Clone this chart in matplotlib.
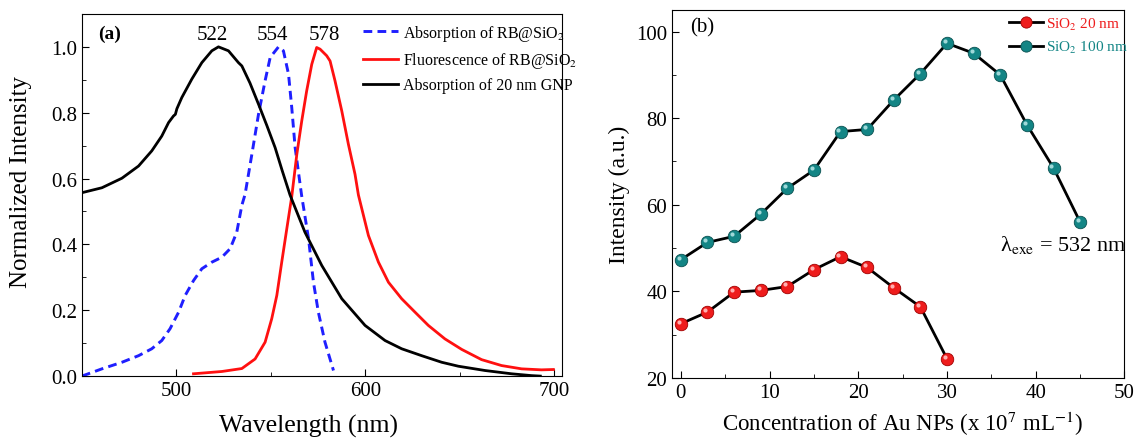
import matplotlib
matplotlib.use("Agg")
import matplotlib.pyplot as plt
from matplotlib import transforms
from matplotlib.ticker import MultipleLocator, FormatStrFormatter

plt.rcParams['font.family'] = ['Liberation Serif', 'DejaVu Serif']
plt.rcParams['mathtext.fontset'] = 'stix'

# (a) spectra
gnp_wl = [450, 460.6, 471.2, 480, 487, 492.3, 495.9, 498.5, 499.5, 500.3, 502.9, 508.2,
          513.5, 518.8, 522.3, 527.6, 532.9, 534.7, 539, 543.5, 548, 552.3, 556, 560.2,
          568.1, 577, 587.6, 599.9, 610.5, 619.3, 629.9, 640.5, 649.3, 663.4, 677.5, 688,
          692.7]
gnp_abs = [0.557, 0.572, 0.601, 0.638, 0.684, 0.729, 0.770, 0.790, 0.795, 0.812, 0.846, 0.902,
           0.952, 0.988, 1.0, 0.988, 0.952, 0.942, 0.89, 0.826, 0.76, 0.694, 0.625, 0.550,
           0.437, 0.336, 0.235, 0.154, 0.108, 0.083, 0.062, 0.042, 0.030, 0.017, 0.007,
           0.0015, 0.0]

rb_abs_wl = [450, 460.6, 471.2, 480, 487, 492.3, 496.7, 501.2, 504.7, 509.1, 513.5, 518.8,
             524.1, 528.5, 532, 534.7, 536.4, 540, 543.5, 547, 549.7, 554.1, 556.7, 559.4,
             561.1, 562.9, 566.3, 570, 572.6, 575.2, 578.7, 583.2]
rb_abs = [0.0, 0.022, 0.042, 0.062, 0.083, 0.108, 0.144, 0.194, 0.245, 0.290, 0.326, 0.346,
          0.361, 0.387, 0.437, 0.519, 0.552, 0.674, 0.795, 0.897, 0.968, 1.0, 0.988, 0.917,
          0.816, 0.694, 0.550, 0.417, 0.285, 0.194, 0.103, 0.017]

rb_fl_wl = [509.1, 524.1, 534.7, 541.7, 547, 550.5, 553.2, 555.8, 558.5, 561.1, 563.8, 566.4,
            569, 571.7, 574.3, 576.1, 579.6, 581.4, 584, 587.6, 591.1, 594.6, 596.4, 601.7,
            607, 612.3, 619.3, 626.4, 633.4, 642.2, 651.1, 661.6, 672.2, 682.8, 693.3, 699.6]
rb_fl = [0.007, 0.014, 0.023, 0.052, 0.103, 0.174, 0.245, 0.346, 0.448, 0.545, 0.674, 0.775,
         0.866, 0.947, 0.998, 0.993, 0.973, 0.957, 0.897, 0.805, 0.704, 0.613, 0.550, 0.427,
         0.346, 0.285, 0.235, 0.194, 0.154, 0.113, 0.081, 0.050, 0.032, 0.022, 0.019, 0.020]

peaks = [522, 554, 578]

# (b) intensity vs Au NP concentration
conc_20 = [0, 3, 6, 9, 12, 15, 18, 21, 24, 27, 30]
int_20 = [32.5, 35.2, 39.8, 40.2, 41.1, 45.0, 48.0, 45.5, 40.8, 36.4, 24.4]
conc_100 = [0, 3, 6, 9, 12, 15, 18, 21, 24, 27, 30, 33, 36, 39, 42, 45]
int_100 = [47.3, 51.3, 52.7, 57.8, 63.8, 68.0, 76.9, 77.4, 84.2, 90.3, 97.3, 95.0, 90.0,
           78.5, 68.5, 56.0]

fig = plt.figure(figsize=(11.37, 4.39), dpi=100)

# ---- panel (a)
ax1 = fig.add_axes([0.072, 0.141, 0.422, 0.825])
ax1.plot(rb_abs_wl, rb_abs, color='#1f1fff', ls=(0, (3, 1.8)), lw=2.1,
         label=r'Absorption of RB@SiO$_2$')
ax1.plot(rb_fl_wl, rb_fl, color='#ff1010', lw=2, label=r'Fluorescence of RB@SiO$_2$')
ax1.plot(gnp_wl, gnp_abs, color='black', lw=2, label='Absorption of 20 nm GNP')
ax1.set_xlim(450, 704)
ax1.set_ylim(0, 1.1)
ax1.xaxis.set_major_locator(MultipleLocator(100))
ax1.xaxis.set_minor_locator(MultipleLocator(50))
ax1.yaxis.set_major_locator(MultipleLocator(0.2))
ax1.yaxis.set_minor_locator(MultipleLocator(0.1))
ax1.yaxis.set_major_formatter(FormatStrFormatter('%.1f'))
ax1.tick_params(which='both', direction='in', labelsize=15)
ax1.tick_params(which='major', length=5)
ax1.tick_params(which='minor', length=3)
ax1.set_xlabel('Wavelength (nm)', fontsize=18.5)
ax1.xaxis.set_label_coords(0.473, -0.105)
ax1.set_ylabel('Normalized Intensity', fontsize=18)
ax1.yaxis.set_label_coords(-0.104, 0.54)
for p, dx in zip(peaks, [-3, -3, 0.5]):
    ax1.text(p + dx, 1.01, str(p), ha='center', va='bottom', fontsize=15)
ax1.text(458.8, 1.041, '(a)', fontsize=14, fontweight='bold', va='center')
ax1.legend(loc='upper left', bbox_to_anchor=(0.585, 0.975), frameon=False, fontsize=11.5,
           handlelength=2.2, handletextpad=0.35, labelspacing=0.45, borderpad=0,
           borderaxespad=0)

# ---- panel (b)
ax2 = fig.add_axes([0.591, 0.137, 0.398, 0.838])
ax2.plot(conc_20, int_20, color='black', lw=2, marker='o', ms=9, mfc='#ee1c1c',
         mec='#a00000', mew=0.6, label=r'SiO$_2$ 20 nm', zorder=3)
ax2.plot(conc_100, int_100, color='black', lw=2, marker='o', ms=9, mfc='#138585',
         mec='#0a5050', mew=0.6, label=r'SiO$_2$ 100 nm', zorder=3)
# little shine on the balls
shine = transforms.offset_copy(ax2.transData, fig=fig, x=-1.5, y=1.5, units='points')
ax2.plot(conc_20, int_20, ls='none', marker='o', ms=3, mfc='#ffb0b0', mec='none',
         transform=shine, zorder=4)
ax2.plot(conc_100, int_100, ls='none', marker='o', ms=3, mfc='#9fd8d8', mec='none',
         transform=shine, zorder=4)
ax2.set_xlim(-1, 50)
ax2.set_ylim(20, 105)
ax2.xaxis.set_major_locator(MultipleLocator(10))
ax2.xaxis.set_minor_locator(MultipleLocator(5))
ax2.yaxis.set_major_locator(MultipleLocator(20))
ax2.yaxis.set_minor_locator(MultipleLocator(10))
ax2.tick_params(which='both', direction='in', labelsize=15)
ax2.tick_params(which='major', length=5)
ax2.tick_params(which='minor', length=3)
ax2.set_xlabel(r'Concentration of Au NPs (x 10$^{7}$ mL$^{-1}$)', fontsize=16.5)
ax2.xaxis.set_label_coords(0.51, -0.084)
ax2.set_ylabel('Intensity (a.u.)', fontsize=17)
ax2.text(1.1, 101, '(b)', fontsize=15, va='center')
ax2.text(36, 51, 'λ$_{\\rm exe}$ = 532 nm', fontsize=16, va='center')
leg = ax2.legend(loc='upper left', bbox_to_anchor=(0.745, 0.985), frameon=False, fontsize=11,
                 handlelength=2.2, handletextpad=0.2, labelspacing=0.5, borderpad=0,
                 borderaxespad=0, markerscale=0.9)
for txt, c in zip(leg.get_texts(), ['#ee1c1c', '#138585']):
    txt.set_color(c)

fig.savefig('out.png', dpi=100)
